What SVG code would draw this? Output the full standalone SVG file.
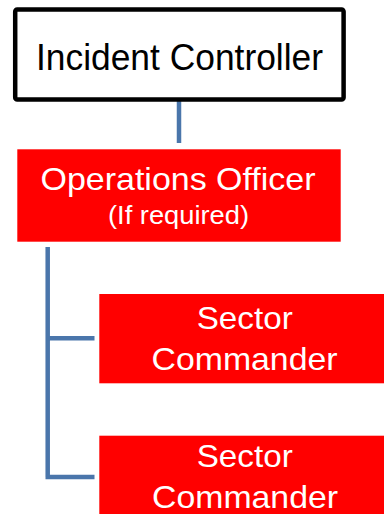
<svg xmlns="http://www.w3.org/2000/svg" width="384" height="514" viewBox="0 0 384 514">
<style>
.t{font-family:"Liberation Sans",Arial,sans-serif;text-anchor:middle}
.w{fill:#ffffff}
.red{fill:#ff0000}
.ln{stroke:#4a76ab;stroke-width:4.5;fill:none;stroke-linecap:butt;stroke-linejoin:miter}
</style>
<rect width="384" height="514" fill="#ffffff"/>
<g id="connectors">
<line class="ln" x1="179" y1="101" x2="179" y2="143"/>
<path class="ln" d="M47.7 247 V477 M47.7 338.3 H94.5 M45.5 477 H94.5"/>
</g>
<g id="incident-controller">
<rect x="15.2" y="9.5" width="328.4" height="90" rx="2" fill="#ffffff" stroke="#000000" stroke-width="4.5"/>
<text class="t" x="179.5" y="70" font-size="36" textLength="287" lengthAdjust="spacingAndGlyphs">Incident Controller</text>
</g>
<g id="operations-officer">
<rect class="red" x="17.3" y="149.3" width="323.4" height="92.4"/>
<text class="t w" x="178" y="190" font-size="32" textLength="275" lengthAdjust="spacingAndGlyphs">Operations Officer</text>
<text class="t w" x="178.5" y="224" font-size="25" textLength="141" lengthAdjust="spacingAndGlyphs">(If required)</text>
</g>
<g id="sector-commander-1">
<rect class="red" x="99.3" y="294" width="295" height="89.3"/>
<text class="t w" x="244.7" y="329.3" font-size="32" textLength="96" lengthAdjust="spacingAndGlyphs">Sector</text>
<text class="t w" x="244.5" y="370" font-size="32" textLength="186" lengthAdjust="spacingAndGlyphs">Commander</text>
</g>
<g id="sector-commander-2">
<rect class="red" x="99.3" y="435.7" width="295" height="90"/>
<text class="t w" x="244.7" y="467" font-size="32" textLength="96" lengthAdjust="spacingAndGlyphs">Sector</text>
<text class="t w" x="245" y="508" font-size="32" textLength="186" lengthAdjust="spacingAndGlyphs">Commander</text>
</g>
</svg>
